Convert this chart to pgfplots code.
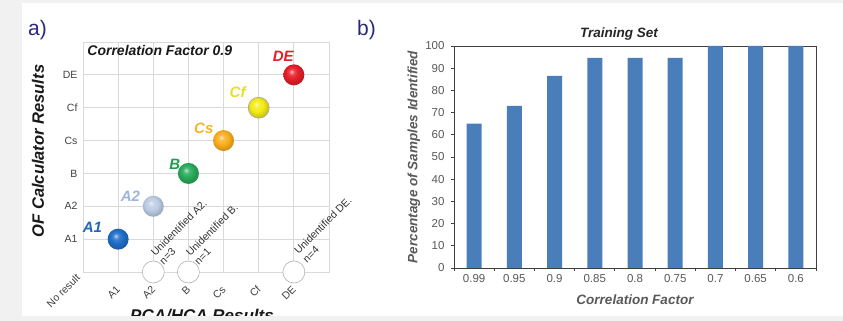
\documentclass[border=0pt]{standalone}
\usepackage{pgfplots}
\pgfplotsset{compat=1.18}
\usepackage{fontspec}
\setmainfont{Liberation Sans}
\definecolor{bggray}{HTML}{F1F1F1}
\definecolor{gridgray}{HTML}{D9D9D9}
\definecolor{tickgray}{HTML}{404040}
\definecolor{annot}{HTML}{333333}
\definecolor{bgraytext}{HTML}{595959}
\definecolor{axgray}{HTML}{404040}
\definecolor{labnavy}{HTML}{2A2A78}
\definecolor{barblue}{HTML}{4A7EBB}
\definecolor{cA1}{HTML}{1E6EC8}\definecolor{lA1}{HTML}{2166B8}
\definecolor{cA2}{HTML}{BCCDE6}\definecolor{lA2}{HTML}{9FB4DA}
\definecolor{cB}{HTML}{28AA5A}\definecolor{lB}{HTML}{1E9E50}
\definecolor{cCs}{HTML}{FAAF1E}\definecolor{lCs}{HTML}{F5B52A}
\definecolor{cCf}{HTML}{F5EB14}\definecolor{lCf}{HTML}{E6DF2A}
\definecolor{cDE}{HTML}{E61E28}\definecolor{lDE}{HTML}{E0202A}
\colorlet{bcol}{cA1}
\pgfdeclareradialshading[bcol]{myball}{\pgfpoint{-6bp}{8bp}}{color(0bp)=(bcol!30!white); color(7bp)=(bcol!85!white); color(15bp)=(bcol); color(25bp)=(bcol!85!black); color(50bp)=(bcol!70!black)}
\pgfdeclareplotmark{sball}{%
  \pgfpathcircle{\pgfpointorigin}{\pgfplotmarksize}%
  \pgfshadepath{myball}{0}%
  \pgfusepath{}}
\begin{document}
\begin{tikzpicture}
\useasboundingbox (0pt,0pt) rectangle (843pt,321pt);
\fill[bggray] (0pt,0pt) rectangle (843pt,321pt);
\fill[white] (22pt,5pt) rectangle (843pt,318pt);
\node[anchor=west, font=\fontsize{21}{23}\selectfont, text=labnavy, inner sep=0] at (28pt,291pt) {a)};
\node[anchor=west, font=\fontsize{21}{23}\selectfont, text=labnavy, inner sep=0] at (357pt,291pt) {b)};
% ---------- panel a ----------
\begin{axis}[at={(83pt,49pt)}, anchor=south west, scale only axis,
  width=246pt, height=230pt,
  xmin=0, xmax=7, ymin=0, ymax=7,
  xtick={0,...,6}, xticklabels={,A1,A2,B,Cs,Cf,DE},
  ytick={0,...,6}, yticklabels={,A1,A2,B,Cs,Cf,DE},
  grid=major, grid style={gridgray, line width=0.8pt},
  axis line style={gridgray, line width=0.8pt},
  major tick length=0pt,
  tick label style={font=\fontsize{10.5}{12}\selectfont, text=tickgray},
  xticklabel style={xshift=1pt, yshift=-15pt, rotate=45, anchor=east, inner sep=1pt},
  yticklabel style={xshift=-2pt},
  clip=false]
\addplot[only marks, mark=*, mark size=11pt, mark options={fill=white, draw=gray!60, line width=0.6pt}] coordinates {(2,0) (3,0) (6,0)};
\addplot[only marks, mark=sball, mark size=10.5pt, mark options={/utils/exec={\colorlet{bcol}{cA1}}}] coordinates {(1,1)};
\addplot[only marks, mark=sball, mark size=10.5pt, mark options={/utils/exec={\colorlet{bcol}{cA2}}}] coordinates {(2,2)};
\addplot[only marks, mark=sball, mark size=10.5pt, mark options={/utils/exec={\colorlet{bcol}{cB}}}] coordinates {(3,3)};
\addplot[only marks, mark=sball, mark size=10.5pt, mark options={/utils/exec={\colorlet{bcol}{cCs}}}] coordinates {(4,4)};
\addplot[only marks, mark=sball, mark size=10.5pt, mark options={/utils/exec={\colorlet{bcol}{cCf}}}] coordinates {(5,5)};
\addplot[only marks, mark=o, mark size=10.5pt, mark options={draw=gray!70, line width=0.6pt}] coordinates {(5,5)};
\addplot[only marks, mark=sball, mark size=10.5pt, mark options={/utils/exec={\colorlet{bcol}{cDE}}}] coordinates {(6,6)};
\tikzset{bl/.style={anchor=south east, inner sep=0, font=\bfseries\itshape\fontsize{15}{17}\selectfont}}
\node[bl, text=lA1, xshift=-16pt, yshift=6pt] at (axis cs:1,1) {A1};
\node[bl, text=lA2, xshift=-13pt, yshift=5pt] at (axis cs:2,2) {A2};
\node[bl, text=lB, xshift=-8pt, yshift=4pt] at (axis cs:3,3) {B};
\node[bl, text=lCs, xshift=-10pt, yshift=7pt] at (axis cs:4,4) {Cs};
\node[bl, text=lCf, xshift=-13pt, yshift=10pt] at (axis cs:5,5) {Cf};
\node[bl, text=lDE, xshift=0pt, yshift=13pt] at (axis cs:6,6) {DE};
\tikzset{an/.style={rotate=45, anchor=south west, align=left, inner sep=0, text=annot, font=\fontsize{10.5}{12}\selectfont}}
\node[an] at (axis cs:2.3,0.2) {Unidentified A2.\\n=3};
\node[an] at (axis cs:3.3,0.2) {Unidentified B.\\n=1};
\node[an] at (axis cs:6.38,0.26) {Unidentified DE.\\n=4};
\node[xshift=-4pt, yshift=-3pt, rotate=45, anchor=east, inner sep=1pt, font=\fontsize{10.5}{12}\selectfont, text=tickgray] at (axis cs:0,0) {No result};
\node[anchor=north west, inner sep=0, font=\bfseries\itshape\fontsize{14}{16}\selectfont, text=black!90] at (axis cs:0.12,6.9) {Correlation Factor 0.9};
\end{axis}
\node[rotate=90, font=\bfseries\itshape\fontsize{16.5}{18}\selectfont, text=black!90] at (38pt,170pt) {OF Calculator Results};
\node[anchor=base, font=\bfseries\itshape\fontsize{17}{19}\selectfont, text=black!90] at (202pt,-1pt) {PCA/HCA Results};
% ---------- panel b ----------
\begin{axis}[at={(454pt,53pt)}, anchor=south west, scale only axis,
  width=362pt, height=222pt,
  ybar, bar width=15pt,
  xmin=-0.5, xmax=8.5, ymin=0, ymax=100,
  ytick={0,10,...,100},
  xtick={-0.5,0.5,...,8.5}, xticklabels={},
  extra x ticks={0,...,8},
  extra x tick labels={0.99,0.95,0.9,0.85,0.8,0.75,0.7,0.65,0.6},
  extra x tick style={major tick length=0pt},
  tick pos=left, tick align=outside, major tick length=3pt,
  axis line style={axgray, line width=0.8pt},
  tick style={axgray, line width=0.8pt},
  /pgf/number format/assume math mode=true,
  tick label style={font=\fontsize{11.5}{13}\selectfont, text=bgraytext},
  xticklabel style={yshift=-3pt},
  yticklabel style={xshift=-3pt}]
\addplot[fill=barblue, draw=none] coordinates {(0,65) (1,73) (2,86.5) (3,94.6) (4,94.6) (5,94.6) (6,100) (7,100) (8,100)};
\end{axis}
\node[font=\bfseries\itshape\fontsize{13.5}{15}\selectfont, text=black!85] at (619pt,287pt) {Training Set};
\node[font=\bfseries\itshape\fontsize{13.5}{15}\selectfont, text=bgraytext] at (635pt,21pt) {Correlation Factor};
\node[rotate=90, font=\bfseries\itshape\fontsize{13.5}{15}\selectfont, text=bgraytext] at (414pt,164pt) {Percentage of Samples Identified};
\fill[bggray] (0pt,0pt) rectangle (843pt,5pt);
\end{tikzpicture}
\end{document}
